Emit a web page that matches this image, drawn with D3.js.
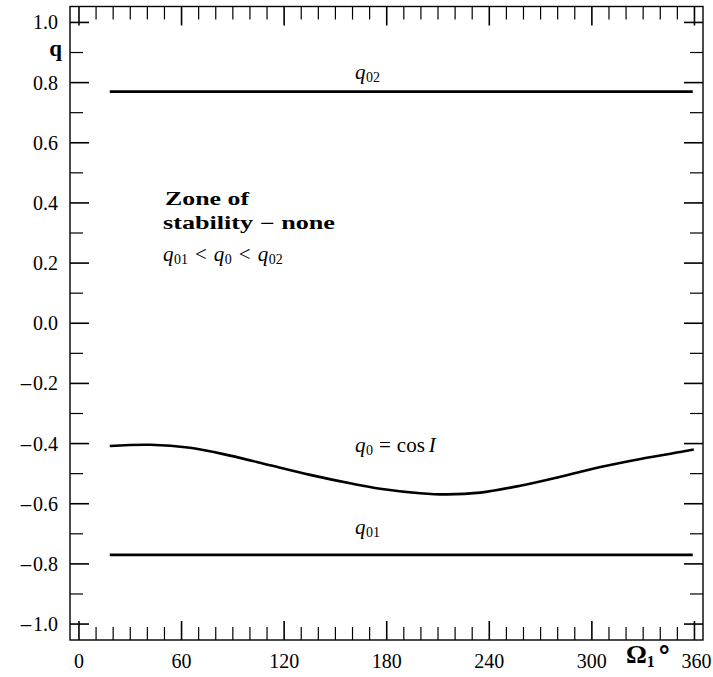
<!DOCTYPE html>
<html>
<head>
<meta charset="utf-8">
<script src="https://cdn.jsdelivr.net/npm/d3@7"></script>
<style>
  html, body { margin: 0; padding: 0; background: #fff; }
  svg text { font-family: "Liberation Serif", "Times New Roman", serif; fill: #000; }
</style>
</head>
<body>
<div id="chart"></div>
<script>
'use strict';

// values
const omegaFlat = [18, 359];
const q02 = [0.77, 0.77];
const q01 = [-0.77, -0.77];

const omegaCurve = [18, 41.6, 65, 88.4, 111.8, 135.2, 158.6, 176.2, 199.6, 215.2, 234.7, 258.1, 281.6, 305, 328.4, 351.8, 359.6];
const q0 = [-0.408, -0.404, -0.414, -0.440, -0.472, -0.504, -0.532, -0.550, -0.565, -0.569, -0.563, -0.540, -0.510, -0.478, -0.451, -0.428, -0.420];

const xTickLabels = [0, 60, 120, 180, 240, 300, 360];
const yTickLabels = [1.0, 0.8, 0.6, 0.4, 0.2, 0.0, -0.2, -0.4, -0.6, -0.8, -1.0];

const width = 713, height = 677;
const frame = { left: 70, right: 703, top: 6.5, bottom: 640 };

const svg = d3.select('#chart').append('svg')
    .attr('width', width)
    .attr('height', height);

const x = d3.scaleLinear().domain([-5.25, 365]).range([frame.left, frame.right]);
const y = d3.scaleLinear().domain([-1.053, 1.053]).range([frame.bottom, frame.top]);

/*
* Ticks: minor every 10 degrees / 0.1, major every 60 degrees / 0.2, on all four sides
*/
const minorLen = 13, majorLen = 19;
const xMinor = d3.range(0, 361, 10);
const yMinor = d3.range(-10, 11).map(function(d){ return d / 10; });

let ticks = svg.append('g').attr('id', 'ticks').attr('stroke', '#000');

xMinor.forEach(function(v){
    let major = v % 60 === 0;
    let len = major ? majorLen : minorLen;
    ticks.append('line')
        .attr('x1', x(v)).attr('x2', x(v))
        .attr('y1', frame.bottom).attr('y2', frame.bottom - len)
        .attr('stroke-width', major ? 1.6 : 1.2);
    ticks.append('line')
        .attr('x1', x(v)).attr('x2', x(v))
        .attr('y1', frame.top).attr('y2', frame.top + len)
        .attr('stroke-width', major ? 1.6 : 1.2);
});

yMinor.forEach(function(v){
    let major = Math.round(v * 10) % 2 === 0;
    let len = major ? majorLen : minorLen;
    ticks.append('line')
        .attr('x1', frame.left).attr('x2', frame.left + len)
        .attr('y1', y(v)).attr('y2', y(v))
        .attr('stroke-width', major ? 1.6 : 1.2);
    ticks.append('line')
        .attr('x1', frame.right).attr('x2', frame.right - len)
        .attr('y1', y(v)).attr('y2', y(v))
        .attr('stroke-width', major ? 1.6 : 1.2);
});

svg.append('rect')
    .attr('x', frame.left).attr('y', frame.top)
    .attr('width', frame.right - frame.left)
    .attr('height', frame.bottom - frame.top)
    .attr('fill', 'none')
    .attr('stroke', '#000')
    .attr('stroke-width', 1.4);

// tick labels
svg.append('g').selectAll('text')
    .data(xTickLabels)
    .enter()
    .append('text')
    .attr('x', function(d){ return d === 360 ? x(d) + 2 : x(d); })
    .attr('y', 668)
    .attr('text-anchor', 'middle')
    .attr('font-size', 20)
    .text(function(d){ return d; });

let yLabels = svg.append('g').selectAll('text')
    .data(yTickLabels)
    .enter()
    .append('text')
    .attr('x', 58)
    .attr('y', function(d){ return y(d) + 7; })
    .attr('text-anchor', 'end')
    .attr('font-size', 20);

yLabels.filter(function(d){ return d < 0; })
    .append('tspan')
    .attr('font-family', 'DejaVu Serif')
    .attr('font-size', 17)
    .text('\u2212');
yLabels.append('tspan')
    .text(function(d){ return d3.format('.1f')(Math.abs(d)); });

// axis titles
svg.append('text')
    .attr('x', 62).attr('y', 56)
    .attr('text-anchor', 'end')
    .attr('font-family', 'DejaVu Serif')
    .attr('font-size', 23)
    .attr('font-weight', 'bold')
    .text('q');

let omegaTitle = svg.append('text')
    .attr('x', 626).attr('y', 663)
    .attr('font-weight', 'bold');
omegaTitle.append('tspan').attr('font-size', 26).text('\u03A9');
omegaTitle.append('tspan').attr('font-size', 16).attr('dy', 4).text('1');
omegaTitle.append('tspan').attr('font-family', 'DejaVu Sans').attr('font-size', 26).attr('dy', -2).attr('dx', 3).text('\u00B0');

/*
* Curves
*/
const line = d3.line()
    .x(function(d){ return x(d[0]); })
    .y(function(d){ return y(d[1]); })
    .curve(d3.curveCatmullRom);

[d3.zip(omegaFlat, q02), d3.zip(omegaFlat, q01), d3.zip(omegaCurve, q0)].forEach(function(series){
    svg.append('path')
        .datum(series)
        .attr('d', line)
        .attr('fill', 'none')
        .attr('stroke', '#000')
        .attr('stroke-width', 2.6);
});

// curve labels: q italic, subscripts upright and smaller
function subLabel(px, py, parts) {
    let t = svg.append('text').attr('x', px).attr('y', py);
    parts.forEach(function(p){
        let s = t.append('tspan').text(p.text);
        s.attr('font-size', p.sub ? 14 : 21);
        if (p.italic) s.attr('font-style', 'italic');
        if (p.dy) s.attr('dy', p.dy);
        if (p.dx) s.attr('dx', p.dx);
    });
    return t;
}

subLabel(355, 79, [
    { text: 'q', italic: true },
    { text: '02', sub: true, dy: 3, dx: 0.5 }
]);

subLabel(355, 452, [
    { text: 'q', italic: true },
    { text: '0', sub: true, dy: 3, dx: 0.5 },
    { text: '=', dy: -3, dx: 6 },
    { text: 'cos', dx: 6 },
    { text: 'I', italic: true, dx: 4 }
]);

subLabel(355, 534, [
    { text: 'q', italic: true },
    { text: '01', sub: true, dy: 3, dx: 0.5 }
]);

// zone annotation
svg.append('text')
    .attr('x', 165).attr('y', 205)
    .attr('font-family', 'DejaVu Serif')
    .attr('font-size', 18)
    .attr('font-weight', 'bold')
    .attr('textLength', 84)
    .attr('lengthAdjust', 'spacingAndGlyphs')
    .text('Zone of');

svg.append('text')
    .attr('x', 163).attr('y', 229)
    .attr('font-family', 'DejaVu Serif')
    .attr('font-size', 18)
    .attr('font-weight', 'bold')
    .attr('textLength', 172)
    .attr('lengthAdjust', 'spacingAndGlyphs')
    .text('stability \u2212 none');

subLabel(163, 261, [
    { text: 'q', italic: true },
    { text: '01', sub: true, dy: 3, dx: 0.5 },
    { text: '<', dy: -3, dx: 7 },
    { text: 'q', italic: true, dx: 7 },
    { text: '0', sub: true, dy: 3, dx: 0.5 },
    { text: '<', dy: -3, dx: 7 },
    { text: 'q', italic: true, dx: 7 },
    { text: '02', sub: true, dy: 3, dx: 0.5 }
]);
</script>
</body>
</html>
